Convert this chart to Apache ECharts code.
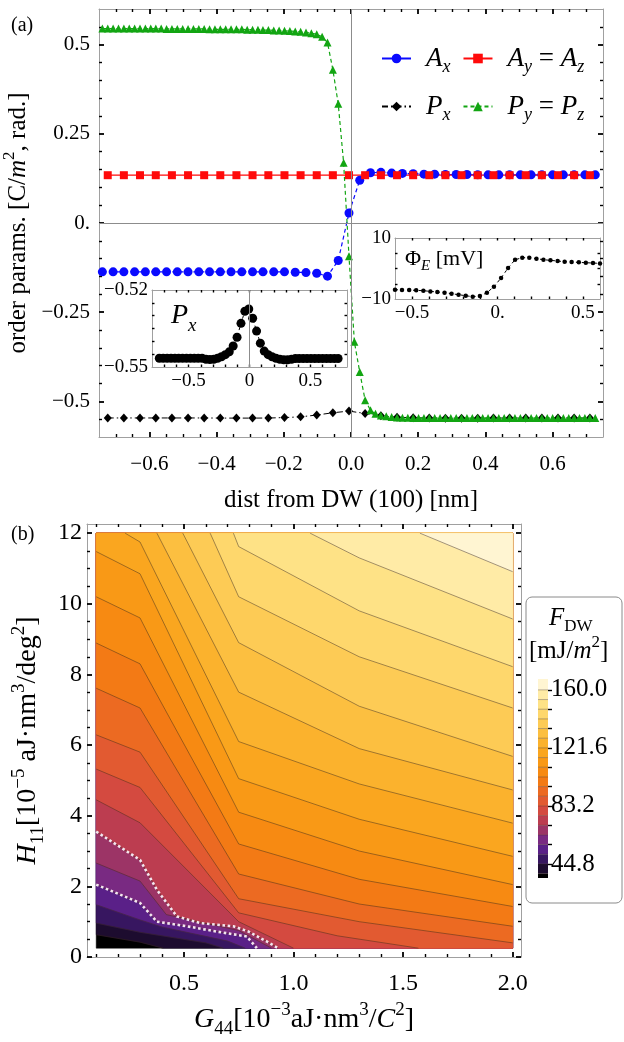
<!DOCTYPE html>
<html><head><meta charset="utf-8">
<script src="https://cdn.jsdelivr.net/npm/echarts@6/dist/echarts.min.js"></script>
<style>html,body{margin:0;padding:0;background:#fff}#c{width:624px;height:1042px}</style>
</head><body><div id="c"></div>
<script>
// ---------------- panel (a) data ----------------
const dist = [
 -0.740,-0.724,-0.708,-0.692,-0.676,-0.660,-0.644,-0.628,-0.612,-0.596,
 -0.581,-0.565,-0.549,-0.533,-0.517,-0.501,-0.485,-0.469,-0.453,-0.437,
 -0.421,-0.405,-0.389,-0.373,-0.357,-0.341,-0.325,-0.309,-0.293,-0.277,
 -0.262,-0.246,-0.230,-0.214,-0.198,-0.182,-0.166,-0.150,-0.134,-0.118,
 -0.102,-0.086,-0.070,-0.054,-0.038,-0.022,-0.006,0.010,0.026,0.042,
 0.058,0.073,0.089,0.105,0.121,0.137,0.153,0.169,0.185,0.201,
 0.217,0.233,0.249,0.265,0.281,0.297,0.313,0.329,0.345,0.361,
 0.377,0.392,0.408,0.424,0.440,0.456,0.472,0.488,0.504,0.520,
 0.536,0.552,0.568,0.584,0.600,0.616,0.632,0.648,0.664,0.680,
 0.696,0.711,0.727];
// P_y = P_z on every grid point
const pyVals = [
 0.545,0.545,0.545,0.545,0.545,0.545,0.545,0.545,0.545,0.545,
 0.545,0.545,0.544,0.544,0.544,0.544,0.544,0.544,0.544,0.544,
 0.543,0.543,0.543,0.543,0.543,0.543,0.543,0.542,0.542,0.542,
 0.541,0.541,0.540,0.540,0.539,0.538,0.537,0.536,0.534,0.532,
 0.529,0.522,0.506,0.430,0.334,0.169,-0.093,-0.333,-0.418,-0.497,
 -0.525,-0.535,-0.540,-0.542,-0.544,-0.545,-0.546,-0.546,-0.547,-0.547,
 -0.547,-0.547,-0.547,-0.547,-0.547,-0.547,-0.547,-0.547,-0.547,-0.547,
 -0.547,-0.547,-0.547,-0.547,-0.547,-0.547,-0.547,-0.547,-0.547,-0.547,
 -0.547,-0.547,-0.547,-0.547,-0.547,-0.547,-0.547,-0.547,-0.547,-0.547,
 -0.547,-0.547,-0.547];
// A_x on every 2nd grid point (dist[0], dist[2], ...)
const axVals = [
 -0.137,-0.137,-0.137,-0.137,-0.137,-0.137,-0.137,-0.137,-0.137,-0.137,
 -0.137,-0.137,-0.137,-0.137,-0.137,-0.137,-0.137,-0.137,-0.138,-0.139,
 -0.141,-0.149,-0.105,0.028,0.120,0.141,0.142,0.140,0.139,0.138,
 0.137,0.137,0.136,0.136,0.136,0.135,0.135,0.135,0.135,0.135,
 0.135,0.135,0.135,0.135,0.135,0.135,0.135];
// A_y = A_z and P_x on every 3rd grid point (dist[1], dist[4], ...)
const ayVals = [
 0.134,0.134,0.134,0.134,0.134,0.134,0.134,0.134,0.134,0.134,
 0.134,0.134,0.134,0.134,0.134,0.134,0.134,0.134,0.134,0.134,
 0.134,0.134,0.134,0.134,0.134,0.134,0.134,0.134,0.134,0.134,0.134];
const pxVals = [
 -0.5466,-0.5466,-0.5466,-0.5466,-0.5466,-0.5466,-0.5466,-0.5470,-0.5470,-0.5470,
 -0.5468,-0.5455,-0.5435,-0.5384,-0.5320,-0.5274,-0.5340,-0.5407,-0.5445,-0.5460,
 -0.5468,-0.5472,-0.5472,-0.5472,-0.5468,-0.5468,-0.5468,-0.5468,-0.5468,-0.5468,-0.5468];
// inset: P_x on every 2nd grid point
const pxInsetVals = [
 -0.5466,-0.5466,-0.5466,-0.5466,-0.5466,-0.5466,-0.5466,-0.5466,-0.5466,-0.5466,
 -0.5466,-0.5466,-0.5470,-0.5471,-0.5470,-0.5466,-0.5460,-0.5452,-0.5441,-0.5418,
 -0.5384,-0.5330,-0.5283,-0.5274,-0.5310,-0.5360,-0.5407,-0.5438,-0.5452,-0.5460,
 -0.5466,-0.5470,-0.5472,-0.5472,-0.5470,-0.5467,-0.5467,-0.5467,-0.5467,-0.5467,
 -0.5467,-0.5467,-0.5467,-0.5467,-0.5467,-0.5467,-0.5467];
// inset: electrostatic potential
const phiX = [-0.600,-0.559,-0.517,-0.476,-0.434,-0.393,-0.352,-0.310,-0.269,-0.228,
 -0.186,-0.145,-0.103,-0.062,-0.021,0.021,0.062,0.103,0.145,0.186,
 0.228,0.269,0.310,0.352,0.393,0.434,0.476,0.517,0.559,0.600];
const phiVals = [-6.95,-7.06,-7.06,-7.17,-7.28,-7.50,-7.71,-7.93,-8.26,-8.59,
 -8.92,-9.25,-9.03,-7.93,-5.97,-3.10,0.16,2.89,3.54,3.54,
 3.21,2.89,2.67,2.45,2.23,2.12,2.01,1.90,1.79,1.68];

// ---------------- panel (b) data ----------------
const contourLevels = [38.4,44.8,51.2,57.6,64.0,70.4,76.8,83.2,89.6,96.0,
 102.4,108.8,115.2,121.6,128.0,134.4,140.8,147.2,153.6,160.0];
const level_38_4 = [[0.1,0.63],[0.3,0.42],[0.405,0.25]];
const level_44_8 = [[0.1,0.96],[0.3,0.70],[0.6,0.40],[0.68,0.25]];
const level_51_2 = [[0.1,1.48],[0.3,1.05],[0.4,0.85],[0.7,0.45],[0.78,0.25]];
const level_57_6 = [[0.1,2.05],[0.3,1.53],[0.377,1.0],[0.514,0.87],[0.65,0.72],[0.787,0.58],[0.833,0.25]];
const level_64_0 = [[0.1,2.66],[0.3,2.15],[0.42,1.2],[0.75,0.75],[0.9,0.25]];
const level_70_4 = [[0.1,3.55],[0.3,2.75],[0.377,1.9],[0.468,1.15],[0.574,0.96],[0.726,0.87],[0.795,0.72],[0.878,0.44],[0.93,0.25]];
const level_76_8 = [[0.1,4.45],[0.3,3.8],[0.75,1.0],[1.0,0.25]];
const level_83_2 = [[0.1,5.32],[0.3,4.8],[0.75,1.25],[1.2,0.6],[1.57,0.25]];
const level_89_6 = [[0.1,6.29],[0.3,5.8],[0.75,1.65],[1.3,1.0],[2.0,0.40]];
const level_96_0 = [[0.1,7.61],[0.3,7.05],[0.75,2.35],[1.3,1.5],[2.0,0.87]];
const level_102_4 = [[0.1,8.89],[0.3,8.3],[0.75,3.2],[1.3,2.2],[2.0,1.43]];
const level_108_8 = [[0.1,10.2],[0.3,9.6],[0.75,4.1],[1.3,3.0],[2.0,2.05]];
const level_115_2 = [[0.1,11.48],[0.3,10.85],[0.75,5.05],[1.3,3.9],[2.0,2.85]];
const level_121_6 = [[0.232,12],[0.3,11.75],[0.75,6.1],[1.3,4.9],[2.0,3.79]];
const level_128_0 = [[0.377,12],[0.75,7.5],[1.3,5.9],[2.0,4.73]];
const level_134_4 = [[0.495,12],[0.75,8.9],[1.3,7.1],[2.0,5.68]];
const level_140_8 = [[0.62,12],[0.75,10.2],[1.3,8.5],[2.0,7.05]];
const level_147_2 = [[0.726,12],[0.75,11.62],[1.3,9.8],[2.0,8.22]];
const level_153_6 = [[1.076,12],[1.3,11.3],[2.0,9.57]];
const level_160_0 = [[1.577,12],[2.0,10.91]];
const contourLines = [level_38_4,level_44_8,level_51_2,level_57_6,level_64_0,level_70_4,
 level_76_8,level_83_2,level_89_6,level_96_0,level_102_4,level_108_8,level_115_2,
 level_121_6,level_128_0,level_134_4,level_140_8,level_147_2,level_153_6,level_160_0];
const highlightLines = [level_57_6, level_70_4];
const colorbarTicks = [44.8,57.6,70.4,83.2,96.0,108.8,121.6,134.4,147.2,160.0];
const colorbarLabels = [44.8,83.2,121.6,160.0];

// ---------------- styles ----------------
const bandColors = ['#000000','#1d0c2f','#371660','#5a2088','#792a82','#9c3466','#bc3d50',
 '#d44a40','#e25a31','#ec6a22','#f37a15','#f78a12','#f99916','#faa61f','#fbb22d',
 '#fcbf40','#fdcb55','#fed76c','#fee286','#ffeba6','#fff5d2'];
const SERIF = '"Liberation Serif","DejaVu Serif",serif';
const FRAME = '#a0a0a0';
const DOM = {x0:0.1, x1:2.0, y0:0.25, y1:12};
const CB = {min:35.5, max:167.2};

function richSet(fs, padLeft) {
  const sub = Math.round(fs * 0.68), lh = Math.round(fs * 1.35);
  const base = {fontFamily: SERIF, color: '#000'};
  return {
    r: Object.assign({fontSize: fs, lineHeight: lh}, base),
    i: Object.assign({fontSize: fs, lineHeight: lh, fontStyle: 'italic'}, base),
    i0: Object.assign({fontSize: fs, lineHeight: lh, fontStyle: 'italic', padding: [0,0,0,padLeft || 0]}, base),
    s: Object.assign({fontSize: sub, lineHeight: sub, verticalAlign: 'bottom'}, base),
    si: Object.assign({fontSize: sub, lineHeight: sub, verticalAlign: 'bottom', fontStyle: 'italic'}, base),
    sup: Object.assign({fontSize: sub, lineHeight: sub, verticalAlign: 'top'}, base)
  };
}
const minus = v => (v < 0 ? '\u2212' : '') + Math.abs(v);

function axis(o) {
  return {
    type: 'value', gridIndex: o.grid, position: o.pos, min: o.min, max: o.max,
    name: o.name || '', nameLocation: 'middle', nameGap: o.nameGap || 0,
    nameRotate: o.nameRotate, nameTextStyle: o.nameStyle,
    axisLine: {show: o.line !== false, onZero: false, lineStyle: {color: FRAME, width: 1}},
    axisTick: {show: !!o.ticks, inside: o.outside ? false : true, length: o.len || 4,
      customValues: o.ticks || [], lineStyle: {color: '#000', width: o.tw || 1.8}},
    axisLabel: o.labels ? {show: true, customValues: o.labels, formatter: o.fmt,
      fontFamily: SERIF, fontSize: o.fs || 21, color: '#000', margin: o.margin || 8} : {show: false},
    splitLine: {show: false}, minorTick: {show: false}
  };
}

// ---- contour helpers ----
function edgeT(p) {
  const x = p[0], y = p[1], e = 1e-6;
  if (Math.abs(y - DOM.y1) < e) return (x - DOM.x0) / (DOM.x1 - DOM.x0);
  if (Math.abs(x - DOM.x1) < e) return 1 + (DOM.y1 - y) / (DOM.y1 - DOM.y0);
  if (Math.abs(y - DOM.y0) < e) return 2 + (DOM.x1 - x) / (DOM.x1 - DOM.x0);
  return 3 + (y - DOM.y0) / (DOM.y1 - DOM.y0);
}
const corners = [[0,[DOM.x0,DOM.y1]],[1,[DOM.x1,DOM.y1]],[2,[DOM.x1,DOM.y0]],[3,[DOM.x0,DOM.y0]]];
function highRegion(line) {
  const tS = edgeT(line[0]), tE = edgeT(line[line.length - 1]);
  const cw = (tS - tE + 4) % 4, trPos = (1 - tE + 4) % 4;
  let extra;
  if (trPos < cw) {
    extra = corners.map(c => [(c[0] - tE + 4) % 4, c[1]]).filter(c => c[0] > 0 && c[0] < cw);
  } else {
    const ccw = (tE - tS + 4) % 4;
    extra = corners.map(c => [(tE - c[0] + 4) % 4, c[1]]).filter(c => c[0] > 0 && c[0] < ccw);
  }
  extra.sort((a, b) => a[0] - b[0]);
  return line.concat(extra.map(c => c[1]));
}

// ---------------- build option ----------------
const majX = [-0.6,-0.4,-0.2,0,0.2,0.4,0.6];
const minX = [-0.7,-0.65,-0.55,-0.5,-0.45,-0.35,-0.3,-0.25,-0.15,-0.1,-0.05,0.05,0.1,0.15,0.25,0.3,0.35,0.45,0.5,0.55,0.65,0.7];
const majY = [-0.5,-0.25,0,0.25,0.5];
const minY = [-0.55,-0.45,-0.4,-0.35,-0.3,-0.2,-0.15,-0.1,-0.05,0.05,0.1,0.15,0.2,0.3,0.35,0.4,0.45,0.55];
const inX1 = [-0.7,-0.6,-0.5,-0.4,-0.3,-0.2,-0.1,0,0.1,0.2,0.3,0.4,0.5,0.6,0.7];
const inY1 = [-0.545,-0.54,-0.535,-0.53,-0.525];
const inX2 = [-0.5,-0.4,-0.3,-0.2,-0.1,0,0.1,0.2,0.3,0.4,0.5];
const inY2 = [-5,0,5];
const bMajX = [0.5,1.0,1.5,2.0];
const bMinX = [0.1,0.2,0.3,0.4,0.6,0.7,0.8,0.9,1.1,1.2,1.3,1.4,1.6,1.7,1.8,1.9];
const bMajY = [0,2,4,6,8,10,12];
const bMinY = [0.5,1,1.5,2.5,3,3.5,4.5,5,5.5,6.5,7,7.5,8.5,9,9.5,10.5,11,11.5];

const rA = richSet(25), rB = richSet(28), rL = richSet(27, 10);

const xAxes = [
  axis({grid:0,pos:'bottom',min:-0.75,max:0.75,ticks:majX,len:5,labels:majX,fmt:v=>(v<0?'\u2212':'')+Math.abs(v).toFixed(1),margin:17,
    name:'{r|dist from DW (100) [nm]}',nameGap:46,nameStyle:{rich:rA}}),
  axis({grid:0,pos:'bottom',min:-0.75,max:0.75,ticks:minX,len:3,tw:1.4,line:false}),
  axis({grid:0,pos:'top',min:-0.75,max:0.75,ticks:majX,len:5}),
  axis({grid:0,pos:'top',min:-0.75,max:0.75,ticks:minX,len:3,tw:1.4,line:false}),
  axis({grid:1,pos:'bottom',min:-0.8,max:0.8,ticks:inX1,len:2.5,tw:1.4,labels:[-0.5,0,0.5],fmt:minus,fs:19,margin:5}),
  axis({grid:1,pos:'top',min:-0.8,max:0.8,ticks:inX1,len:2.5,tw:1.4}),
  axis({grid:2,pos:'bottom',min:-0.6,max:0.6,ticks:inX2,len:2.5,tw:1.4,labels:[-0.5,0,0.5],fmt:v=>v===0?'0.':minus(v),fs:19,margin:5}),
  axis({grid:2,pos:'top',min:-0.6,max:0.6,ticks:inX2,len:2.5,tw:1.4}),
  axis({grid:3,pos:'bottom',min:0.058,max:2.038,ticks:bMajX,len:5,labels:bMajX,fmt:v=>v.toFixed(1),fs:24,margin:15,
    name:'{i|G}{s|44}{r|[10}{sup|\u22123}{r|aJ\u00b7nm}{sup|3}{r|/}{i|C}{sup|2}{r|]}',nameGap:44,nameStyle:{rich:rB}}),
  axis({grid:3,pos:'bottom',min:0.058,max:2.038,ticks:bMinX,len:3,tw:1.4,line:false}),
  axis({grid:3,pos:'top',min:0.058,max:2.038,ticks:bMajX,len:5}),
  axis({grid:3,pos:'top',min:0.058,max:2.038,ticks:bMinX,len:3,tw:1.4,line:false}),
  axis({grid:4,pos:'bottom',min:0,max:1,line:false})
];
const yAxes = [
  axis({grid:0,pos:'left',min:-0.6,max:0.6,ticks:majY,len:5,labels:majY,fmt:v=>v===0?'0.':minus(v),margin:9,
    name:'{r|order params. [C/}{i|m}{sup|2}{r|, rad.]}',nameGap:60,nameRotate:90,nameStyle:{rich:rA}}),
  axis({grid:0,pos:'left',min:-0.6,max:0.6,ticks:minY,len:3,tw:1.4,line:false}),
  axis({grid:0,pos:'right',min:-0.6,max:0.6,ticks:majY,len:5}),
  axis({grid:0,pos:'right',min:-0.6,max:0.6,ticks:minY,len:3,tw:1.4,line:false}),
  axis({grid:1,pos:'left',min:-0.55,max:-0.52,ticks:inY1,len:2.5,tw:1.4,labels:[-0.55,-0.52],fmt:minus,fs:19,margin:4}),
  axis({grid:1,pos:'right',min:-0.55,max:-0.52,ticks:inY1,len:2.5,tw:1.4}),
  axis({grid:2,pos:'left',min:-10,max:10,ticks:inY2,len:2.5,tw:1.4,labels:[-10,10],fmt:minus,fs:19,margin:4}),
  axis({grid:2,pos:'right',min:-10,max:10,ticks:inY2,len:2.5,tw:1.4}),
  axis({grid:3,pos:'left',min:0,max:12.26,ticks:bMajY,len:5,labels:bMajY,fmt:v=>String(v),fs:24,margin:5,
    name:'{i|H}{s|11}{r|[10}{sup|\u22125}{r| aJ\u00b7nm}{sup|3}{r|/deg}{sup|2}{r|]}',nameGap:32,nameRotate:90,nameStyle:{rich:rB}}),
  axis({grid:3,pos:'left',min:0,max:12.26,ticks:bMinY,len:3,tw:1.4,line:false}),
  axis({grid:3,pos:'right',min:0,max:12.26,ticks:bMajY,len:5}),
  axis({grid:3,pos:'right',min:0,max:12.26,ticks:bMinY,len:3,tw:1.4,line:false}),
  axis({grid:4,pos:'right',min:CB.min,max:CB.max,line:false,ticks:colorbarTicks,outside:true,len:4,tw:1.4,
    labels:colorbarLabels,fmt:v=>v.toFixed(1),fs:25,margin:3})
];

const pick = (vals, start, step) => vals.map((v, k) => [dist[start + step * k], v]);

const series = [
  {name:'Ax', type:'line', xAxisIndex:0, yAxisIndex:0, data: pick(axVals,0,2),
   symbol:'circle', symbolSize:9, itemStyle:{color:'#0a0aff'},
   lineStyle:{color:'#0a0aff', width:1.2, type:[4,3]}, z:3},
  {name:'Ay', type:'line', xAxisIndex:0, yAxisIndex:0, data: pick(ayVals,1,3),
   symbol:'rect', symbolSize:8, itemStyle:{color:'#ff0a0a'},
   lineStyle:{color:'#ff0a0a', width:1.2}, z:3,
   markLine:{silent:true, symbol:['none','none'], label:{show:false}, animation:false,
     lineStyle:{color:'#8c8c8c', width:1, type:'solid'}, data:[{xAxis:0},{yAxis:0}]}},
  {name:'Px', type:'line', xAxisIndex:0, yAxisIndex:0, data: pick(pxVals,1,3),
   symbol:'diamond', symbolSize:[8,9], itemStyle:{color:'#000'},
   lineStyle:{color:'#000', width:1, type:[6,3,1.5,3]}, z:3},
  {name:'Py', type:'line', xAxisIndex:0, yAxisIndex:0, data: pyVals.map((v,i)=>[dist[i],v]),
   symbol:'triangle', symbolSize:8, itemStyle:{color:'#12a512'},
   lineStyle:{color:'#12a512', width:1.2, type:[4,3]}, z:3},
  {type:'line', xAxisIndex:4, yAxisIndex:4, data: pick(pxInsetVals,0,2),
   symbol:'circle', symbolSize:9, itemStyle:{color:'#000'},
   lineStyle:{color:'#000', width:1, type:[3,3]}, z:3,
   markLine:{silent:true, symbol:['none','none'], label:{show:false}, animation:false,
     lineStyle:{color:'#8c8c8c', width:1, type:'solid'}, data:[{xAxis:0}]}},
  {type:'line', xAxisIndex:6, yAxisIndex:6, data: phiVals.map((v,i)=>[phiX[i],v]),
   symbol:'circle', symbolSize:4.5, itemStyle:{color:'#000'},
   lineStyle:{color:'#000', width:1, type:[3,3]}, z:3},
  {type:'custom', xAxisIndex:8, yAxisIndex:8, clip:true, z:1,
   data: bandColors.map((c,i)=>[i]),
   renderItem: function (params, api) {
     const idx = params.dataIndex;
     const pts = idx === 0 ? [[DOM.x0,DOM.y0],[DOM.x1,DOM.y0],[DOM.x1,DOM.y1],[DOM.x0,DOM.y1]]
                           : highRegion(contourLines[idx - 1]);
     return {type:'polygon', shape:{points: pts.map(p => api.coord(p))},
       style:{fill: bandColors[idx], stroke: bandColors[idx], lineWidth: 0.5}};
   }},
  {type:'custom', xAxisIndex:12, yAxisIndex:12, z:2,
   data: bandColors.map((c,i)=>[0,i]),
   renderItem: function (params, api) {
     const i = params.dataIndex;
     const lo = i === 0 ? CB.min : contourLevels[i - 1];
     const hi = i === contourLevels.length ? CB.max : contourLevels[i];
     const p0 = api.coord([0, lo]), p1 = api.coord([1, hi]);
     const kids = [{type:'rect', shape:{x:p0[0], y:p1[1], width:p1[0]-p0[0], height:p0[1]-p1[1]},
       style:{fill: bandColors[i]}}];
     if (i > 0) kids.push({type:'line', shape:{x1:p0[0], y1:p0[1], x2:p1[0], y2:p0[1]},
       style:{stroke:'rgba(60,40,30,0.45)', lineWidth:0.8}});
     return {type:'group', children: kids};
   }}
];
contourLines.forEach(line => series.push({type:'line', xAxisIndex:8, yAxisIndex:8, data: line,
  symbol:'none', lineStyle:{color:'rgba(60,40,30,0.6)', width:0.8}, z:4, silent:true}));
highlightLines.forEach(line => series.push({type:'line', xAxisIndex:8, yAxisIndex:8, data: line,
  symbol:'none', lineStyle:{color:'#f3e6ee', width:2.6, type:[2.6,2.6]}, z:5, silent:true}));

const legendFmt = {
  Ax: '{i0|A}{si|x}', Ay: '{i0|A}{si|y}{r| = }{i|A}{si|z}',
  Px: '{i0|P}{si|x}', Py: '{i0|P}{si|y}{r| = }{i|P}{si|z}'
};
const legendBase = {orient:'horizontal', itemWidth:29, itemHeight:12, itemGap:12, padding:0,
  formatter: n => legendFmt[n], textStyle:{rich: rL}, selectedMode:false};

const option = {
  animation: false,
  grid: [
    {left:99, top:9, width:504, height:428, outerBoundsMode:'none', containLabel:false},
    {left:152, top:290, width:195, height:77, outerBoundsMode:'none', containLabel:false, show:true, backgroundColor:'#fff', borderWidth:0},
    {left:395, top:238, width:205, height:61, outerBoundsMode:'none', containLabel:false, show:true, backgroundColor:'#fff', borderWidth:0},
    {left:87, top:524, width:434, height:433, outerBoundsMode:'none', containLabel:false},
    {left:538, top:679, width:10, height:199, outerBoundsMode:'none', containLabel:false}
  ],
  xAxis: xAxes, yAxis: yAxes,
  legend: [
    Object.assign({left:381, top:45, data:[{name:'Ax', lineStyle:{type:'solid'}}, 'Ay']}, legendBase),
    Object.assign({left:381, top:93, data:['Px', 'Py']}, legendBase)
  ],
  graphic: [
    {type:'text', left:11, top:16, style:{text:'(a)', font:'20px ' + SERIF, fill:'#000'}},
    {type:'text', left:11, top:525, style:{text:'(b)', font:'20px ' + SERIF, fill:'#000'}},
    {type:'text', left:171, top:302, z:10, style:{text:'{i|P}{si|x}', rich: richSet(28)}},
    {type:'text', left:405, top:248, z:10, style:{text:'{r|\u03a6}{si|E}{r| [mV]}', rich: richSet(22)}},
    {type:'rect', z:-1, shape:{x:526, y:597, width:96, height:306, r:6},
      style:{fill:'#fff', stroke:'#8a8a8a', lineWidth:1}},
    {type:'text', left:549, top:606, style:{text:'{i|F}{s|DW}', rich: richSet(25)}},
    {type:'text', left:529, top:634, style:{text:'{r|[mJ/}{i|m}{sup|2}{r|]}', rich: richSet(25)}}
  ],
  series: series
};
const chart = echarts.init(document.getElementById('c'), null, {renderer:'canvas'});
chart.setOption(option);
</script></body></html>
